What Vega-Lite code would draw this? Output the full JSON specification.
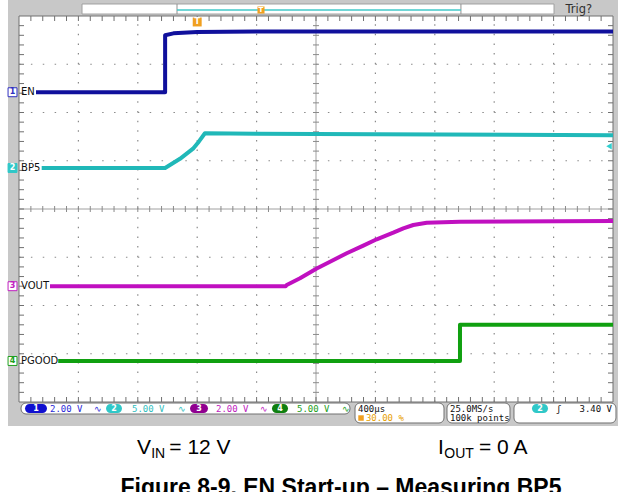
{
  "$schema": "https://vega.github.io/schema/vega-lite/v6.json",
  "width": 594,
  "height": 386,
  "autosize": {"type": "none"},
  "padding": {"left": 19, "top": 16, "right": 11, "bottom": 90},
  "background": "white",
  "config": {"view": {"stroke": null}},
  "datasets": {
    "frame": [{"x": -0.185, "x2": 10.084, "y": 8.332, "y2": -0.497}],
    "plot": [{"x": 0, "x2": 10, "y": 0, "y2": 8}],
    "gx": [{"x": 1}, {"x": 2}, {"x": 3}, {"x": 4}, {"x": 6}, {"x": 7}, {"x": 8}, {"x": 9}],
    "gy": [{"y": 1}, {"y": 2}, {"y": 3}, {"y": 5}, {"y": 6}, {"y": 7}],
    "xt": [{"x": 0.2}, {"x": 0.4}, {"x": 0.6}, {"x": 0.8}, {"x": 1}, {"x": 1.2}, {"x": 1.4}, {"x": 1.6}, {"x": 1.8}, {"x": 2}, {"x": 2.2}, {"x": 2.4}, {"x": 2.6}, {"x": 2.8}, {"x": 3}, {"x": 3.2}, {"x": 3.4}, {"x": 3.6}, {"x": 3.8}, {"x": 4}, {"x": 4.2}, {"x": 4.4}, {"x": 4.6}, {"x": 4.8}, {"x": 5}, {"x": 5.2}, {"x": 5.4}, {"x": 5.6}, {"x": 5.8}, {"x": 6}, {"x": 6.2}, {"x": 6.4}, {"x": 6.6}, {"x": 6.8}, {"x": 7}, {"x": 7.2}, {"x": 7.4}, {"x": 7.6}, {"x": 7.8}, {"x": 8}, {"x": 8.2}, {"x": 8.4}, {"x": 8.6}, {"x": 8.8}, {"x": 9}, {"x": 9.2}, {"x": 9.4}, {"x": 9.6}, {"x": 9.8}],
    "yt": [{"y": 0.2}, {"y": 0.4}, {"y": 0.6}, {"y": 0.8}, {"y": 1}, {"y": 1.2}, {"y": 1.4}, {"y": 1.6}, {"y": 1.8}, {"y": 2}, {"y": 2.2}, {"y": 2.4}, {"y": 2.6}, {"y": 2.8}, {"y": 3}, {"y": 3.2}, {"y": 3.4}, {"y": 3.6}, {"y": 3.8}, {"y": 4}, {"y": 4.2}, {"y": 4.4}, {"y": 4.6}, {"y": 4.8}, {"y": 5}, {"y": 5.2}, {"y": 5.4}, {"y": 5.6}, {"y": 5.8}, {"y": 6}, {"y": 6.2}, {"y": 6.4}, {"y": 6.6}, {"y": 6.8}, {"y": 7}, {"y": 7.2}, {"y": 7.4}, {"y": 7.6}, {"y": 7.8}],
    "traces": [
      {"s": "EN", "i": 0, "x": 0.286, "y": 6.42},
      {"s": "EN", "i": 1, "x": 2.46, "y": 6.42},
      {"s": "EN", "i": 2, "x": 2.46, "y": 7.6},
      {"s": "EN", "i": 3, "x": 2.6, "y": 7.64},
      {"s": "EN", "i": 4, "x": 3.0, "y": 7.67},
      {"s": "EN", "i": 5, "x": 4.0, "y": 7.68},
      {"s": "EN", "i": 6, "x": 7.0, "y": 7.68},
      {"s": "EN", "i": 7, "x": 10.0, "y": 7.68},
      {"s": "BP5", "i": 0, "x": 0.382, "y": 4.85},
      {"s": "BP5", "i": 1, "x": 2.46, "y": 4.85},
      {"s": "BP5", "i": 2, "x": 2.71, "y": 5.04},
      {"s": "BP5", "i": 3, "x": 2.93, "y": 5.25},
      {"s": "BP5", "i": 4, "x": 3.03, "y": 5.4},
      {"s": "BP5", "i": 5, "x": 3.13, "y": 5.57},
      {"s": "BP5", "i": 6, "x": 4.0, "y": 5.56},
      {"s": "BP5", "i": 7, "x": 6.0, "y": 5.55},
      {"s": "BP5", "i": 8, "x": 10.0, "y": 5.53},
      {"s": "VOUT", "i": 0, "x": 0.522, "y": 2.4},
      {"s": "VOUT", "i": 1, "x": 4.49, "y": 2.4},
      {"s": "VOUT", "i": 2, "x": 4.507, "y": 2.425},
      {"s": "VOUT", "i": 3, "x": 4.731, "y": 2.563},
      {"s": "VOUT", "i": 4, "x": 5.012, "y": 2.767},
      {"s": "VOUT", "i": 5, "x": 5.236, "y": 2.908},
      {"s": "VOUT", "i": 6, "x": 5.517, "y": 3.082},
      {"s": "VOUT", "i": 7, "x": 5.796, "y": 3.24},
      {"s": "VOUT", "i": 8, "x": 6.022, "y": 3.372},
      {"s": "VOUT", "i": 9, "x": 6.301, "y": 3.51},
      {"s": "VOUT", "i": 10, "x": 6.47, "y": 3.6},
      {"s": "VOUT", "i": 11, "x": 6.638, "y": 3.668},
      {"s": "VOUT", "i": 12, "x": 6.864, "y": 3.716},
      {"s": "VOUT", "i": 13, "x": 7.424, "y": 3.737},
      {"s": "VOUT", "i": 14, "x": 10.0, "y": 3.75},
      {"s": "PGOOD", "i": 0, "x": 0.66, "y": 0.85},
      {"s": "PGOOD", "i": 1, "x": 7.424, "y": 0.85},
      {"s": "PGOOD", "i": 2, "x": 7.424, "y": 1.6},
      {"s": "PGOOD", "i": 3, "x": 10.0, "y": 1.6}
    ],
    "labels": [
      {"t": "EN", "x": 0.034, "y": 6.42},
      {"t": "BP5", "x": 0.034, "y": 4.85},
      {"t": "VOUT", "x": 0.034, "y": 2.4},
      {"t": "PGOOD", "x": 0.034, "y": 0.85}
    ],
    "markers": [
      {"t": "1", "ch": "1", "x": -0.109, "y": 6.42},
      {"t": "2", "ch": "2", "x": -0.109, "y": 4.85},
      {"t": "3", "ch": "3", "x": -0.109, "y": 2.4},
      {"t": "4", "ch": "4", "x": -0.109, "y": 0.85}
    ],
    "boxes": [
      {"x": 0.034, "x2": 5.572, "y": -0.021, "y2": -0.249},
      {"x": 5.657, "x2": 7.155, "y": -0.021, "y2": -0.435},
      {"x": 7.205, "x2": 8.266, "y": -0.021, "y2": -0.435},
      {"x": 8.333, "x2": 10.05, "y": -0.021, "y2": -0.435}
    ],
    "pills": [
      {"t": "1", "ch": "1", "x": 0.101, "x2": 0.471, "xc": 0.286, "y": -0.041, "y2": -0.228, "yc": -0.135},
      {"t": "2", "ch": "2", "x": 1.465, "x2": 1.734, "xc": 1.6, "y": -0.041, "y2": -0.228, "yc": -0.135},
      {"t": "3", "ch": "3", "x": 2.879, "x2": 3.182, "xc": 3.03, "y": -0.041, "y2": -0.228, "yc": -0.135},
      {"t": "4", "ch": "4", "x": 4.259, "x2": 4.529, "xc": 4.394, "y": -0.041, "y2": -0.228, "yc": -0.135},
      {"t": "2", "ch": "2", "x": 8.636, "x2": 8.906, "xc": 8.771, "y": -0.041, "y2": -0.228, "yc": -0.135}
    ],
    "status": [
      {"t": "2.00 V", "c": "1", "x": 0.522, "y": -0.135},
      {"t": "∿", "c": "1", "x": 1.263, "y": -0.135},
      {"t": "5.00 V", "c": "2", "x": 1.902, "y": -0.135},
      {"t": "∿", "c": "2", "x": 2.677, "y": -0.135},
      {"t": "2.00 V", "c": "3", "x": 3.316, "y": -0.135},
      {"t": "∿", "c": "3", "x": 4.057, "y": -0.135},
      {"t": "5.00 V", "c": "4", "x": 4.68, "y": -0.135},
      {"t": "∿", "c": "4", "x": 5.438, "y": -0.135},
      {"t": "400µs", "c": "k", "x": 5.707, "y": -0.135},
      {"t": "30.00 %", "c": "o", "x": 5.84, "y": -0.332},
      {"t": "25.0MS/s", "c": "k", "x": 7.256, "y": -0.135},
      {"t": "100k points", "c": "k", "x": 7.256, "y": -0.332},
      {"t": "ʃ", "c": "k", "x": 9.04, "y": -0.135}
    ],
    "big": [
      {"t": "V", "x": 1.987, "y": -1.078},
      {"t": "= 12 V", "x": 2.53, "y": -1.078},
      {"t": "I", "x": 7.054, "y": -1.078},
      {"t": "= 0 A", "x": 7.744, "y": -1.078}
    ],
    "subs": [
      {"t": "IN", "x": 2.225, "y": -1.161},
      {"t": "OUT", "x": 7.16, "y": -1.161}
    ],
    "title": [{"t": "Figure 8-9. EN Start-up – Measuring BP5", "x": 5.421, "y": -1.927}]
  },
  "layer": [
    {"data": {"name": "frame"}, "mark": {"type": "rect", "fill": "#c8c8c8"}, "encoding": {
      "x": {"field": "x", "type": "quantitative", "scale": {"domain": [0, 10], "nice": false}, "axis": null}, "x2": {"field": "x2"},
      "y": {"field": "y", "type": "quantitative", "scale": {"domain": [0, 8], "nice": false}, "axis": null}, "y2": {"field": "y2"}}},
    {"data": {"name": "plot"}, "mark": {"type": "rect", "fill": "white", "stroke": "#707070", "strokeWidth": 1}, "encoding": {
      "x": {"field": "x", "type": "quantitative", "scale": {"domain": [0, 10], "nice": false}, "axis": null}, "x2": {"field": "x2"},
      "y": {"field": "y", "type": "quantitative", "scale": {"domain": [0, 8], "nice": false}, "axis": null}, "y2": {"field": "y2"}}},
    {"data": {"name": "gx"}, "mark": {"type": "rule", "color": "#8a8a8a", "strokeWidth": 1.2, "strokeDash": [1.5, 8.15]}, "encoding": {
      "x": {"field": "x", "type": "quantitative", "scale": {"domain": [0, 10], "nice": false}, "axis": null},
      "y": {"datum": 0, "type": "quantitative", "scale": {"domain": [0, 8], "nice": false}, "axis": null}, "y2": {"datum": 8}}},
    {"data": {"name": "gy"}, "mark": {"type": "rule", "color": "#8a8a8a", "strokeWidth": 1.2, "strokeDash": [1.5, 10.38]}, "encoding": {
      "y": {"field": "y", "type": "quantitative", "scale": {"domain": [0, 8], "nice": false}, "axis": null},
      "x": {"datum": 0, "type": "quantitative", "scale": {"domain": [0, 10], "nice": false}, "axis": null}, "x2": {"datum": 10}}},
    {"data": {"name": "plot"}, "mark": {"type": "rule", "color": "#a0a0a0", "strokeWidth": 1}, "encoding": {
      "x": {"datum": 5, "type": "quantitative", "scale": {"domain": [0, 10], "nice": false}, "axis": null},
      "y": {"datum": 0, "type": "quantitative", "scale": {"domain": [0, 8], "nice": false}, "axis": null}, "y2": {"datum": 8}}},
    {"data": {"name": "plot"}, "mark": {"type": "rule", "color": "#a0a0a0", "strokeWidth": 1}, "encoding": {
      "y": {"datum": 4, "type": "quantitative", "scale": {"domain": [0, 8], "nice": false}, "axis": null},
      "x": {"datum": 0, "type": "quantitative", "scale": {"domain": [0, 10], "nice": false}, "axis": null}, "x2": {"datum": 10}}},
    {"data": {"name": "xt"}, "mark": {"type": "point", "shape": "M0,-1L0,1", "size": 36, "filled": false, "stroke": "#8a8a8a", "strokeWidth": 1, "opacity": 1}, "encoding": {
      "x": {"field": "x", "type": "quantitative", "scale": {"domain": [0, 10], "nice": false}, "axis": null},
      "y": {"datum": 4, "type": "quantitative", "scale": {"domain": [0, 8], "nice": false}, "axis": null}}},
    {"data": {"name": "yt"}, "mark": {"type": "point", "shape": "M-1,0L1,0", "size": 36, "filled": false, "stroke": "#8a8a8a", "strokeWidth": 1, "opacity": 1}, "encoding": {
      "y": {"field": "y", "type": "quantitative", "scale": {"domain": [0, 8], "nice": false}, "axis": null},
      "x": {"datum": 5, "type": "quantitative", "scale": {"domain": [0, 10], "nice": false}, "axis": null}}},
    {"data": {"name": "xt"}, "mark": {"type": "point", "shape": "M0,-1L0,1", "size": 25, "filled": false, "stroke": "#707070", "strokeWidth": 1, "opacity": 1, "yOffset": 2.5}, "encoding": {
      "x": {"field": "x", "type": "quantitative", "scale": {"domain": [0, 10], "nice": false}, "axis": null},
      "y": {"datum": 8, "type": "quantitative", "scale": {"domain": [0, 8], "nice": false}, "axis": null}}},
    {"data": {"name": "xt"}, "mark": {"type": "point", "shape": "M0,-1L0,1", "size": 25, "filled": false, "stroke": "#707070", "strokeWidth": 1, "opacity": 1, "yOffset": -2.5}, "encoding": {
      "x": {"field": "x", "type": "quantitative", "scale": {"domain": [0, 10], "nice": false}, "axis": null},
      "y": {"datum": 0, "type": "quantitative", "scale": {"domain": [0, 8], "nice": false}, "axis": null}}},
    {"data": {"name": "yt"}, "mark": {"type": "point", "shape": "M-1,0L1,0", "size": 25, "filled": false, "stroke": "#707070", "strokeWidth": 1, "opacity": 1, "xOffset": 2.5}, "encoding": {
      "y": {"field": "y", "type": "quantitative", "scale": {"domain": [0, 8], "nice": false}, "axis": null},
      "x": {"datum": 0, "type": "quantitative", "scale": {"domain": [0, 10], "nice": false}, "axis": null}}},
    {"data": {"name": "yt"}, "mark": {"type": "point", "shape": "M-1,0L1,0", "size": 25, "filled": false, "stroke": "#707070", "strokeWidth": 1, "opacity": 1, "xOffset": -2.5}, "encoding": {
      "y": {"field": "y", "type": "quantitative", "scale": {"domain": [0, 8], "nice": false}, "axis": null},
      "x": {"datum": 10, "type": "quantitative", "scale": {"domain": [0, 10], "nice": false}, "axis": null}}},
    {"data": {"name": "plot"}, "mark": {"type": "rect", "fill": "white", "stroke": "#a0a0a0", "strokeWidth": 1}, "encoding": {
      "x": {"datum": 1.061, "type": "quantitative", "scale": {"domain": [0, 10], "nice": false}, "axis": null}, "x2": {"datum": 9.007},
      "y": {"datum": 8.249, "type": "quantitative", "scale": {"domain": [0, 8], "nice": false}, "axis": null}, "y2": {"datum": 8.041}}},
    {"data": {"name": "plot"}, "mark": {"type": "rule", "color": "#909090", "strokeWidth": 1}, "encoding": {
      "x": {"datum": 2.66, "type": "quantitative", "scale": {"domain": [0, 10], "nice": false}, "axis": null},
      "y": {"datum": 8.249, "type": "quantitative", "scale": {"domain": [0, 8], "nice": false}, "axis": null}, "y2": {"datum": 8.041}}},
    {"data": {"name": "plot"}, "mark": {"type": "rule", "color": "#909090", "strokeWidth": 1}, "encoding": {
      "x": {"datum": 7.44, "type": "quantitative", "scale": {"domain": [0, 10], "nice": false}, "axis": null},
      "y": {"datum": 8.249, "type": "quantitative", "scale": {"domain": [0, 8], "nice": false}, "axis": null}, "y2": {"datum": 8.041}}},
    {"data": {"name": "plot"}, "mark": {"type": "rule", "color": "#40c8c8", "strokeWidth": 1.5}, "encoding": {
      "y": {"datum": 8.124, "type": "quantitative", "scale": {"domain": [0, 8], "nice": false}, "axis": null},
      "x": {"datum": 2.66, "type": "quantitative", "scale": {"domain": [0, 10], "nice": false}, "axis": null}, "x2": {"datum": 7.44}}},
    {"data": {"name": "plot"}, "mark": {"type": "point", "shape": "square", "size": 50, "filled": true, "color": "#f0a020", "opacity": 1}, "encoding": {
      "x": {"datum": 4.074, "type": "quantitative", "scale": {"domain": [0, 10], "nice": false}, "axis": null},
      "y": {"datum": 8.124, "type": "quantitative", "scale": {"domain": [0, 8], "nice": false}, "axis": null}}},
    {"data": {"name": "plot"}, "mark": {"type": "text", "text": "T", "fontSize": 7, "fontWeight": "bold", "font": "DejaVu Sans", "color": "white", "baseline": "middle", "align": "center"}, "encoding": {
      "x": {"datum": 4.074, "type": "quantitative", "scale": {"domain": [0, 10], "nice": false}, "axis": null},
      "y": {"datum": 8.124, "type": "quantitative", "scale": {"domain": [0, 8], "nice": false}, "axis": null}}},
    {"data": {"name": "plot"}, "mark": {"type": "text", "text": "Trig?", "fontSize": 11.5, "font": "DejaVu Sans", "color": "#303030", "baseline": "middle", "align": "left"}, "encoding": {
      "x": {"datum": 9.2, "type": "quantitative", "scale": {"domain": [0, 10], "nice": false}, "axis": null},
      "y": {"datum": 8.124, "type": "quantitative", "scale": {"domain": [0, 8], "nice": false}, "axis": null}}},
    {"data": {"name": "plot"}, "mark": {"type": "point", "shape": "square", "size": 80, "filled": true, "color": "#f0a020", "opacity": 1}, "encoding": {
      "x": {"datum": 3, "type": "quantitative", "scale": {"domain": [0, 10], "nice": false}, "axis": null},
      "y": {"datum": 7.876, "type": "quantitative", "scale": {"domain": [0, 8], "nice": false}, "axis": null}}},
    {"data": {"name": "plot"}, "mark": {"type": "text", "text": "T", "fontSize": 8, "fontWeight": "bold", "font": "DejaVu Sans", "color": "white", "baseline": "middle", "align": "center"}, "encoding": {
      "x": {"datum": 3, "type": "quantitative", "scale": {"domain": [0, 10], "nice": false}, "axis": null},
      "y": {"datum": 7.876, "type": "quantitative", "scale": {"domain": [0, 8], "nice": false}, "axis": null}}},
    {"data": {"name": "plot"}, "mark": {"type": "point", "shape": "triangle-left", "size": 40, "filled": true, "color": "#30d0d0", "opacity": 1}, "encoding": {
      "x": {"datum": 9.933, "type": "quantitative", "scale": {"domain": [0, 10], "nice": false}, "axis": null},
      "y": {"datum": 5.3, "type": "quantitative", "scale": {"domain": [0, 8], "nice": false}, "axis": null}}},
    {"data": {"name": "traces"}, "mark": {"type": "line", "strokeWidth": 4, "strokeJoin": "round"}, "encoding": {
      "x": {"field": "x", "type": "quantitative", "scale": {"domain": [0, 10], "nice": false}, "axis": null},
      "y": {"field": "y", "type": "quantitative", "scale": {"domain": [0, 8], "nice": false}, "axis": null},
      "color": {"field": "s", "type": "nominal", "scale": {"domain": ["EN", "BP5", "VOUT", "PGOOD"], "range": ["#10109c", "#20b8b8", "#c010c0", "#10a010"]}, "legend": null},
      "order": {"field": "i", "type": "quantitative"}}},
    {"data": {"name": "labels"}, "mark": {"type": "text", "align": "left", "baseline": "middle", "font": "DejaVu Sans", "fontSize": 10, "color": "#101010"}, "encoding": {
      "x": {"field": "x", "type": "quantitative", "scale": {"domain": [0, 10], "nice": false}, "axis": null},
      "y": {"field": "y", "type": "quantitative", "scale": {"domain": [0, 8], "nice": false}, "axis": null},
      "text": {"field": "t"}}},
    {"data": {"name": "markers"}, "mark": {"type": "point", "shape": "square", "size": 80, "strokeWidth": 1, "opacity": 1}, "encoding": {
      "x": {"field": "x", "type": "quantitative", "scale": {"domain": [0, 10], "nice": false}, "axis": null},
      "y": {"field": "y", "type": "quantitative", "scale": {"domain": [0, 8], "nice": false}, "axis": null},
      "fill": {"field": "ch", "type": "nominal", "scale": {"domain": ["1", "2", "3", "4"], "range": ["white", "#30c8c8", "white", "white"]}, "legend": null},
      "stroke": {"field": "ch", "type": "nominal", "scale": {"domain": ["1", "2", "3", "4"], "range": ["#3030c0", "#30c8c8", "#c020c0", "#20a020"]}, "legend": null}}},
    {"data": {"name": "markers"}, "mark": {"type": "text", "align": "center", "baseline": "middle", "font": "DejaVu Sans", "fontSize": 8, "fontWeight": "bold"}, "encoding": {
      "x": {"field": "x", "type": "quantitative", "scale": {"domain": [0, 10], "nice": false}, "axis": null},
      "y": {"field": "y", "type": "quantitative", "scale": {"domain": [0, 8], "nice": false}, "axis": null},
      "text": {"field": "t"},
      "color": {"field": "ch", "type": "nominal", "scale": {"domain": ["1", "2", "3", "4"], "range": ["#3030c0", "white", "#c020c0", "#20a020"]}, "legend": null}}},
    {"data": {"name": "boxes"}, "mark": {"type": "rect", "fill": "white", "stroke": "#707070", "strokeWidth": 1, "cornerRadius": 5}, "encoding": {
      "x": {"field": "x", "type": "quantitative", "scale": {"domain": [0, 10], "nice": false}, "axis": null}, "x2": {"field": "x2"},
      "y": {"field": "y", "type": "quantitative", "scale": {"domain": [0, 8], "nice": false}, "axis": null}, "y2": {"field": "y2"}}},
    {"data": {"name": "pills"}, "mark": {"type": "rect", "cornerRadius": 5}, "encoding": {
      "x": {"field": "x", "type": "quantitative", "scale": {"domain": [0, 10], "nice": false}, "axis": null}, "x2": {"field": "x2"},
      "y": {"field": "y", "type": "quantitative", "scale": {"domain": [0, 8], "nice": false}, "axis": null}, "y2": {"field": "y2"},
      "color": {"field": "ch", "type": "nominal", "scale": {"domain": ["1", "2", "3", "4"], "range": ["#1010d0", "#30c8c8", "#900090", "#108010"]}, "legend": null}}},
    {"data": {"name": "pills"}, "mark": {"type": "text", "align": "center", "baseline": "middle", "font": "DejaVu Sans", "fontSize": 8, "fontWeight": "bold", "color": "white"}, "encoding": {
      "x": {"field": "xc", "type": "quantitative", "scale": {"domain": [0, 10], "nice": false}, "axis": null},
      "y": {"field": "yc", "type": "quantitative", "scale": {"domain": [0, 8], "nice": false}, "axis": null},
      "text": {"field": "t"}}},
    {"data": {"name": "status"}, "mark": {"type": "text", "align": "left", "baseline": "middle", "font": "DejaVu Sans Mono", "fontSize": 9}, "encoding": {
      "x": {"field": "x", "type": "quantitative", "scale": {"domain": [0, 10], "nice": false}, "axis": null},
      "y": {"field": "y", "type": "quantitative", "scale": {"domain": [0, 8], "nice": false}, "axis": null},
      "text": {"field": "t"},
      "color": {"field": "c", "type": "nominal", "scale": {"domain": ["1", "2", "3", "4", "k", "o"], "range": ["#2a2ad8", "#30c0c0", "#c020c0", "#20a020", "#101010", "#e8a000"]}, "legend": null}}},
    {"data": {"name": "plot"}, "mark": {"type": "point", "shape": "square", "size": 30, "filled": true, "color": "#f0a020", "opacity": 1}, "encoding": {
      "x": {"datum": 5.758, "type": "quantitative", "scale": {"domain": [0, 10], "nice": false}, "axis": null},
      "y": {"datum": -0.332, "type": "quantitative", "scale": {"domain": [0, 8], "nice": false}, "axis": null}}},
    {"data": {"name": "plot"}, "mark": {"type": "text", "text": "3.40 V", "align": "right", "baseline": "middle", "font": "DejaVu Sans Mono", "fontSize": 9, "color": "#101010"}, "encoding": {
      "x": {"datum": 9.983, "type": "quantitative", "scale": {"domain": [0, 10], "nice": false}, "axis": null},
      "y": {"datum": -0.135, "type": "quantitative", "scale": {"domain": [0, 8], "nice": false}, "axis": null}}},
    {"data": {"name": "big"}, "mark": {"type": "text", "align": "left", "baseline": "alphabetic", "font": "Liberation Sans", "fontSize": 21, "color": "black"}, "encoding": {
      "x": {"field": "x", "type": "quantitative", "scale": {"domain": [0, 10], "nice": false}, "axis": null},
      "y": {"field": "y", "type": "quantitative", "scale": {"domain": [0, 8], "nice": false}, "axis": null},
      "text": {"field": "t"}}},
    {"data": {"name": "subs"}, "mark": {"type": "text", "align": "left", "baseline": "alphabetic", "font": "Liberation Sans", "fontSize": 14, "color": "black"}, "encoding": {
      "x": {"field": "x", "type": "quantitative", "scale": {"domain": [0, 10], "nice": false}, "axis": null},
      "y": {"field": "y", "type": "quantitative", "scale": {"domain": [0, 8], "nice": false}, "axis": null},
      "text": {"field": "t"}}},
    {"data": {"name": "title"}, "mark": {"type": "text", "align": "center", "baseline": "alphabetic", "font": "Liberation Sans", "fontSize": 23, "fontWeight": "bold", "color": "black"}, "encoding": {
      "x": {"field": "x", "type": "quantitative", "scale": {"domain": [0, 10], "nice": false}, "axis": null},
      "y": {"field": "y", "type": "quantitative", "scale": {"domain": [0, 8], "nice": false}, "axis": null},
      "text": {"field": "t"}}}
  ],
  "resolve": {"scale": {"color": "independent", "fill": "independent", "stroke": "independent"}}
}
